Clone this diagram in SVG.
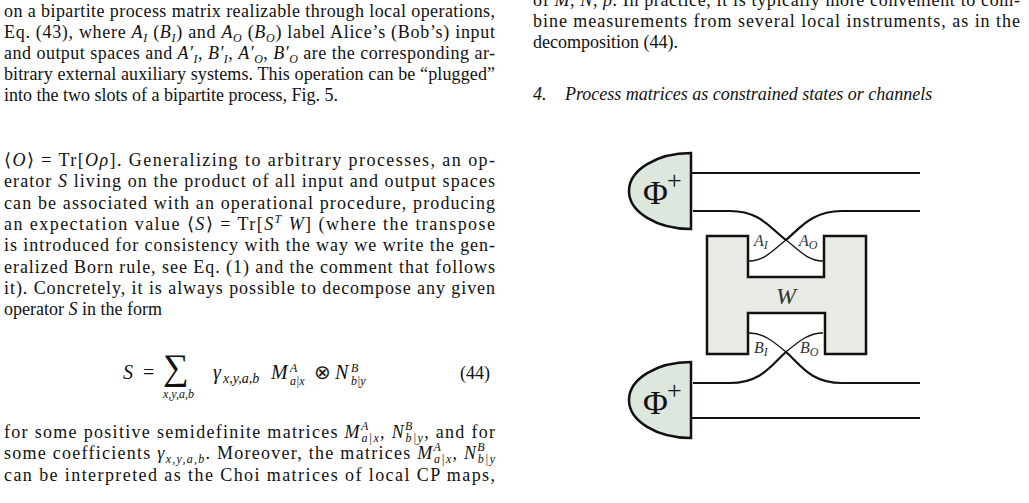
<svg xmlns="http://www.w3.org/2000/svg" width="1029" height="503" viewBox="0 0 1029 503">
<style>
text{font-family:"Liberation Serif","Times New Roman",serif;font-size:18px;fill:#111}
.i{font-style:italic}
.s{font-size:12px}
.w{fill:none;stroke:#111;stroke-width:2.2}
.t{fill:none;stroke:#111;stroke-width:1.3}
.dome{fill:#dde7de;stroke:#111;stroke-width:2.5}
.big{font-size:34px}
.pl{font-size:26px}
.lab{font-size:16px;font-style:italic;fill:#333}
.eq{font-size:20px}
</style>
<rect width="1029" height="503" fill="#fff"/>
<g id="left-text">
<text x="4" y="17" textLength="491" lengthAdjust="spacing">on a bipartite process matrix realizable through local operations,</text>
<text x="4" y="38" textLength="491" lengthAdjust="spacing">Eq. (43), where <tspan class="i">A</tspan><tspan class="i s" dy="4">I</tspan><tspan dy="-4"> (</tspan><tspan class="i">B</tspan><tspan class="i s" dy="4">I</tspan><tspan dy="-4">) and </tspan><tspan class="i">A</tspan><tspan class="i s" dy="4">O</tspan><tspan dy="-4"> (</tspan><tspan class="i">B</tspan><tspan class="i s" dy="4">O</tspan><tspan dy="-4">) label Alice’s (Bob’s) input</tspan></text>
<text x="4" y="58.5" textLength="491" lengthAdjust="spacing">and output spaces and <tspan class="i">A′</tspan><tspan class="i s" dy="4">I</tspan><tspan dy="-4">, </tspan><tspan class="i">B′</tspan><tspan class="i s" dy="4">I</tspan><tspan dy="-4">, </tspan><tspan class="i">A′</tspan><tspan class="i s" dy="4">O</tspan><tspan dy="-4">, </tspan><tspan class="i">B′</tspan><tspan class="i s" dy="4">O</tspan><tspan dy="-4"> are the corresponding ar-</tspan></text>
<text x="4" y="79.5" textLength="491" lengthAdjust="spacing">bitrary external auxiliary systems. This operation can be “plugged”</text>
<text x="4" y="100.5">into the two slots of a bipartite process, Fig. 5.</text>
<text x="4" y="166" textLength="491" lengthAdjust="spacing">⟨<tspan class="i">O</tspan>⟩ = Tr[<tspan class="i">Oρ</tspan>]. Generalizing to arbitrary processes, an op-</text>
<text x="4" y="187.3" textLength="491" lengthAdjust="spacing">erator <tspan class="i">S</tspan> living on the product of all input and output spaces</text>
<text x="4" y="208.6" textLength="491" lengthAdjust="spacing">can be associated with an operational procedure, producing</text>
<text x="4" y="229.9" textLength="491" lengthAdjust="spacing">an expectation value ⟨<tspan class="i">S</tspan>⟩ = Tr[<tspan class="i">S</tspan><tspan class="i s" dy="-7">T</tspan><tspan class="i" dy="7"> W</tspan>] (where the transpose</text>
<text x="4" y="251.2" textLength="491" lengthAdjust="spacing">is introduced for consistency with the way we write the gen-</text>
<text x="4" y="272.5" textLength="491" lengthAdjust="spacing">eralized Born rule, see Eq. (1) and the comment that follows</text>
<text x="4" y="293.8" textLength="491" lengthAdjust="spacing">it). Concretely, it is always possible to decompose any given</text>
<text x="4" y="315.1">operator <tspan class="i">S</tspan> in the form</text>
<text x="123" y="379" class="i eq">S</text>
<text x="143" y="379" class="eq">=</text>
<text x="163" y="379" style="font-size:36px">∑</text>
<text x="163" y="398" class="i s">x,y,a,b</text>
<text x="213" y="379" class="i eq">γ</text>
<text x="223" y="383" class="i" style="font-size:14px">x,y,a,b</text>
<text x="271" y="379" class="i eq">M</text>
<text x="290" y="372" class="i s">A</text>
<text x="290" y="385" class="i s">a|x</text>
<text x="314" y="379" class="eq">⊗</text>
<text x="335" y="379" class="i eq">N</text>
<text x="351" y="372" class="i s">B</text>
<text x="351" y="385" class="i s">b|y</text>
<text x="460" y="379">(44)</text>
<text x="4" y="438" textLength="491" lengthAdjust="spacing">for some positive semidefinite matrices <tspan class="i">M</tspan><tspan class="i s" dy="-8">A</tspan><tspan class="i s" dx="-8" dy="12">a|x</tspan><tspan dy="-4">, </tspan><tspan class="i">N</tspan><tspan class="i s" dy="-8">B</tspan><tspan class="i s" dx="-8" dy="12">b|y</tspan><tspan dy="-4">, and for</tspan></text>
<text x="4" y="459.3" textLength="491" lengthAdjust="spacing">some coefficients <tspan class="i">γ</tspan><tspan class="i s" dy="4">x,y,a,b</tspan><tspan dy="-4">. Moreover, the matrices </tspan><tspan class="i">M</tspan><tspan class="i s" dy="-8">A</tspan><tspan class="i s" dx="-8" dy="12">a|x</tspan><tspan dy="-4">, </tspan><tspan class="i">N</tspan><tspan class="i s" dy="-8">B</tspan><tspan class="i s" dx="-8" dy="12">b|y</tspan></text>
<text x="4" y="480.6" textLength="491" lengthAdjust="spacing">can be interpreted as the Choi matrices of local CP maps,</text>
</g>
<g id="right-text">
<text x="533" y="6" textLength="487" lengthAdjust="spacing">of <tspan class="i">M</tspan>, <tspan class="i">N</tspan>, <tspan class="i">ρ</tspan>. In practice, it is typically more convenient to com-</text>
<text x="533" y="27" textLength="487" lengthAdjust="spacing">bine measurements from several local instruments, as in the</text>
<text x="533" y="48">decomposition (44).</text>
<text x="533" y="100" class="i">4.</text>
<text x="565" y="100" class="i">Process matrices as constrained states or channels</text>
</g>
<g id="connectors">
<path class="w" d="M691,173 H920"/>
<path class="w" d="M691,418 H920"/>
<path class="w" d="M693,211 H730 C760,211 770,228 786,240"/>
<path class="t" d="M786,240 C800,251 808,261 823,261"/>
<path class="w" d="M786,240 C800,228 812,211 842,211 H920"/>
<path class="t" d="M749,261 C764,261 772,251 786,240"/>
<path class="t" d="M749,333 C764,333 774,342 786,352"/>
<path class="w" d="M786,352 C800,364 810,383 842,383 H920"/>
<path class="t" d="M823,333 C808,333 798,342 786,352"/>
<path class="w" d="M786,352 C772,364 762,383 730,383 H693"/>
</g>
<g id="W">
<path d="M707,236 H748 V277 H824 V236 H866 V354 H825 V313 H748 V354 H707 Z" fill="#e8ebe3" stroke="#111" stroke-width="2.5"/>
<text x="776" y="304" class="i" style="font-size:24px;fill:#333">W</text>
<text x="754" y="246" class="lab">A<tspan class="s" dy="3">I</tspan></text>
<text x="799" y="246" class="lab">A<tspan class="s" dy="3">O</tspan></text>
<text x="754" y="353" class="lab">B<tspan class="s" dy="3">I</tspan></text>
<text x="800" y="353" class="lab">B<tspan class="s" dy="3">O</tspan></text>
</g>
<g id="phi-top">
<path class="dome" d="M691,153 A62,38 0 0 0 691,229 Z"/>
<text x="643" y="204" class="big">Φ</text><text x="667" y="189" class="pl">+</text>
</g>
<g id="phi-bottom">
<path class="dome" d="M691,362 A62,38 0 0 0 691,438 Z"/>
<text x="643" y="414" class="big">Φ</text><text x="667" y="399" class="pl">+</text>
</g>
</svg>
